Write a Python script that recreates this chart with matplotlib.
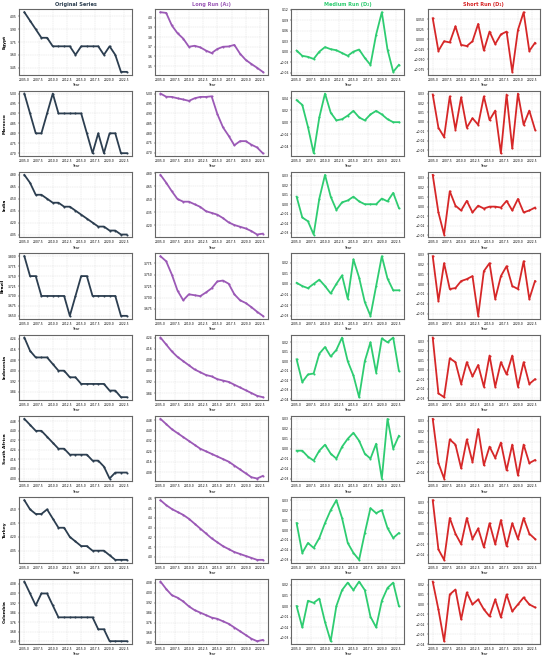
import numpy as np
import matplotlib
matplotlib.use("Agg")
from matplotlib import pyplot as plt
from matplotlib.ticker import MaxNLocator, FormatStrFormatter

years = list(range(2005, 2024))
countries = ["Egypt", "Morocco", "India", "Brazil", "Indonesia", "South Africa", "Turkey", "Colombia"]
col_titles = ["Original Series", "Long Run (A\u2082)", "Medium Run (D\u2082)", "Short Run (D\u2081)"]
col_colors = ["#2c3e50", "#9b59b6", "#2ecc71", "#d62728"]

# original series
egypt_orig = [4.1, 4.0, 3.9, 3.8, 3.8, 3.7, 3.7, 3.7, 3.7, 3.6, 3.7, 3.7, 3.7, 3.7, 3.6, 3.7, 3.6, 3.4, 3.4]
morocco_orig = [5.0, 4.9, 4.8, 4.8, 4.9, 5.0, 4.9, 4.9, 4.9, 4.9, 4.9, 4.8, 4.7, 4.8, 4.7, 4.8, 4.8, 4.7, 4.7]
india_orig = [4.8, 4.7, 4.55, 4.55, 4.5, 4.45, 4.45, 4.4, 4.4, 4.35, 4.3, 4.25, 4.2, 4.15, 4.15, 4.1, 4.1, 4.05, 4.05]
brazil_orig = [3.8, 3.75, 3.75, 3.7, 3.7, 3.7, 3.7, 3.7, 3.65, 3.7, 3.75, 3.75, 3.7, 3.7, 3.7, 3.7, 3.7, 3.65, 3.65]
indonesia_orig = [4.25, 4.15, 4.1, 4.1, 4.1, 4.05, 4.0, 4.0, 3.95, 3.95, 3.9, 3.9, 3.9, 3.9, 3.9, 3.85, 3.85, 3.8, 3.8]
safrica_orig = [4.5, 4.45, 4.4, 4.4, 4.35, 4.3, 4.25, 4.25, 4.2, 4.2, 4.2, 4.2, 4.15, 4.15, 4.1, 4.0, 4.05, 4.05, 4.05]
turkey_orig = [4.6, 4.5, 4.45, 4.45, 4.5, 4.4, 4.3, 4.3, 4.2, 4.15, 4.1, 4.1, 4.05, 4.05, 4.05, 4.0, 3.95, 3.95, 3.95]
colombia_orig = [4.1, 4.0, 3.9, 4.0, 4.0, 3.9, 3.8, 3.8, 3.8, 3.8, 3.8, 3.8, 3.8, 3.7, 3.7, 3.6, 3.6, 3.6, 3.6]

# long run
egypt_long = [4.055, 4.048, 3.919, 3.839, 3.784, 3.70, 3.71, 3.694, 3.661, 3.635, 3.677, 3.70, 3.703, 3.719, 3.629, 3.565, 3.523, 3.484, 3.442]
morocco_long = [5.0, 4.984, 4.983, 4.976, 4.970, 4.963, 4.976, 4.983, 4.983, 4.986, 4.897, 4.829, 4.786, 4.738, 4.759, 4.759, 4.741, 4.727, 4.698]
india_long = [4.78, 4.69, 4.59, 4.50, 4.47, 4.47, 4.44, 4.41, 4.36, 4.34, 4.32, 4.28, 4.23, 4.20, 4.18, 4.16, 4.13, 4.09, 4.10]
brazil_long = [3.79, 3.779, 3.75, 3.715, 3.694, 3.707, 3.705, 3.703, 3.711, 3.72, 3.735, 3.737, 3.73, 3.707, 3.694, 3.688, 3.679, 3.669, 3.66]
indonesia_long = [4.24, 4.19, 4.14, 4.10, 4.07, 4.04, 4.01, 3.99, 3.97, 3.96, 3.94, 3.93, 3.92, 3.90, 3.88, 3.86, 3.84, 3.82, 3.81]
safrica_long = [4.49, 4.45, 4.41, 4.38, 4.35, 4.32, 4.29, 4.26, 4.24, 4.22, 4.20, 4.18, 4.16, 4.13, 4.10, 4.07, 4.04, 4.03, 4.05]
turkey_long = [4.58, 4.53, 4.49, 4.46, 4.43, 4.39, 4.34, 4.29, 4.24, 4.19, 4.15, 4.11, 4.08, 4.05, 4.03, 4.01, 3.99, 3.97, 3.97]
colombia_long = [4.09, 4.03, 3.98, 3.96, 3.93, 3.89, 3.86, 3.84, 3.82, 3.80, 3.79, 3.77, 3.75, 3.72, 3.69, 3.66, 3.63, 3.61, 3.62]

# medium run
egypt_med = [0.003, -0.012, -0.015, -0.021, 0.0, 0.013, 0.007, 0.004, -0.004, -0.012, 0.0, 0.006, -0.018, -0.038, 0.049, 0.113, 0.006, -0.058, -0.038]
morocco_med = [0.037, 0.029, -0.008, -0.052, 0.008, 0.048, 0.016, 0.003, 0.005, 0.011, 0.019, 0.008, 0.003, 0.013, 0.019, 0.013, 0.005, 0.0, 0.0]
india_med = [0.008, -0.014, -0.018, -0.032, 0.006, 0.031, 0.008, -0.006, 0.002, 0.004, 0.008, 0.003, 0.0, 0.0, 0.0, 0.006, 0.003, 0.012, -0.004]
brazil_med = [0.001, -0.002, -0.004, 0.0, 0.004, -0.002, -0.009, 0.0, 0.008, -0.014, 0.023, 0.006, -0.017, -0.030, -0.002, 0.026, 0.005, -0.006, -0.006]
indonesia_med = [0.002, -0.022, -0.014, -0.013, 0.008, 0.015, 0.005, 0.012, 0.025, 0.0, -0.015, -0.038, 0.0, 0.020, -0.012, 0.024, 0.020, 0.025, -0.010]
safrica_med = [-0.002, -0.002, -0.008, -0.012, -0.002, 0.004, -0.005, -0.010, 0.002, 0.010, 0.016, 0.008, -0.005, -0.010, 0.005, -0.030, 0.030, 0.0, 0.013]
turkey_med = [0.007, -0.023, -0.013, -0.018, -0.008, 0.007, 0.020, 0.030, 0.012, -0.013, -0.023, -0.030, -0.003, 0.022, 0.017, 0.020, 0.002, -0.008, -0.003]
colombia_med = [0.0, -0.020, 0.005, 0.003, 0.007, -0.015, -0.033, 0.0, 0.015, 0.022, 0.015, 0.023, 0.015, -0.010, -0.020, 0.005, 0.017, 0.022, 0.0]

# short run
egypt_short = [0.052, -0.029, -0.005, -0.008, 0.032, -0.014, -0.017, -0.005, 0.038, -0.028, 0.019, -0.012, 0.012, 0.019, -0.081, 0.023, 0.067, -0.029, -0.009]
morocco_short = [0.029, -0.006, -0.016, 0.027, -0.008, 0.026, -0.006, 0.004, -0.003, 0.027, 0.002, 0.012, -0.033, 0.029, -0.028, 0.030, -0.003, 0.012, -0.008]
india_short = [0.033, -0.006, -0.029, 0.016, 0.001, -0.004, 0.006, -0.006, 0.001, -0.002, 0.0, 0.0, -0.001, 0.006, -0.004, 0.008, -0.006, -0.004, -0.001]
brazil_short = [0.028, -0.017, 0.021, -0.005, -0.004, 0.003, 0.005, 0.008, -0.032, 0.013, 0.021, -0.015, 0.008, 0.018, -0.002, -0.005, 0.023, -0.015, 0.003]
indonesia_short = [0.034, -0.025, -0.029, 0.012, 0.008, -0.015, 0.008, -0.007, 0.005, -0.018, 0.015, -0.018, 0.008, -0.005, 0.015, -0.018, 0.008, -0.015, -0.010]
safrica_short = [0.032, -0.011, -0.026, 0.012, 0.007, -0.016, 0.012, -0.010, 0.022, -0.013, 0.005, -0.006, 0.009, -0.018, 0.007, -0.023, 0.007, -0.011, -0.008]
turkey_short = [0.032, -0.015, -0.025, 0.015, 0.0, -0.010, 0.015, -0.005, 0.005, -0.013, 0.010, -0.010, 0.013, -0.012, 0.010, -0.005, 0.015, 0.0, -0.005]
colombia_short = [0.023, -0.005, -0.037, 0.010, 0.015, -0.015, 0.012, 0.0, 0.005, -0.005, -0.012, 0.005, -0.013, 0.010, -0.007, 0.0, 0.007, 0.0, -0.003]

rows = [
    [egypt_orig, egypt_long, egypt_med, egypt_short],
    [morocco_orig, morocco_long, morocco_med, morocco_short],
    [india_orig, india_long, india_med, india_short],
    [brazil_orig, brazil_long, brazil_med, brazil_short],
    [indonesia_orig, indonesia_long, indonesia_med, indonesia_short],
    [safrica_orig, safrica_long, safrica_med, safrica_short],
    [turkey_orig, turkey_long, turkey_med, turkey_short],
    [colombia_orig, colombia_long, colombia_med, colombia_short],
]

fig, axes = plt.subplots(8, 4, figsize=(5.5, 6.6), dpi=100)
fig.subplots_adjust(left=0.035, right=0.982, top=0.986, bottom=0.024, wspace=0.21, hspace=0.24)

for i, row in enumerate(rows):
    for j, vals in enumerate(row):
        ax = axes[i, j]
        ax.plot(years, vals, color=col_colors[j], lw=1.3, marker="o", ms=1.5, mew=0)
        ax.grid(True, ls="--", lw=0.3, color="#cccccc", alpha=0.7)
        ax.set_xticks([2005, 2007.5, 2010, 2012.5, 2015, 2017.5, 2020, 2022.5])
        ax.xaxis.set_major_formatter(FormatStrFormatter("%.1f"))
        ax.yaxis.set_major_locator(MaxNLocator(nbins=7))
        ax.tick_params(labelsize=2.2, length=1, width=0.3, pad=1)
        ax.set_xlabel("Year", fontsize=2.5, labelpad=1)
        for s in ax.spines.values():
            s.set_color("#666666")
            s.set_linewidth(0.8)
        if i == 0:
            ax.set_title(col_titles[j], fontsize=3.6, fontweight="bold", color=col_colors[j], pad=2)
        if j == 0:
            ax.set_ylabel(countries[i], fontsize=3.2, fontweight="bold", labelpad=2)

fig.savefig("out.png", dpi=100)
